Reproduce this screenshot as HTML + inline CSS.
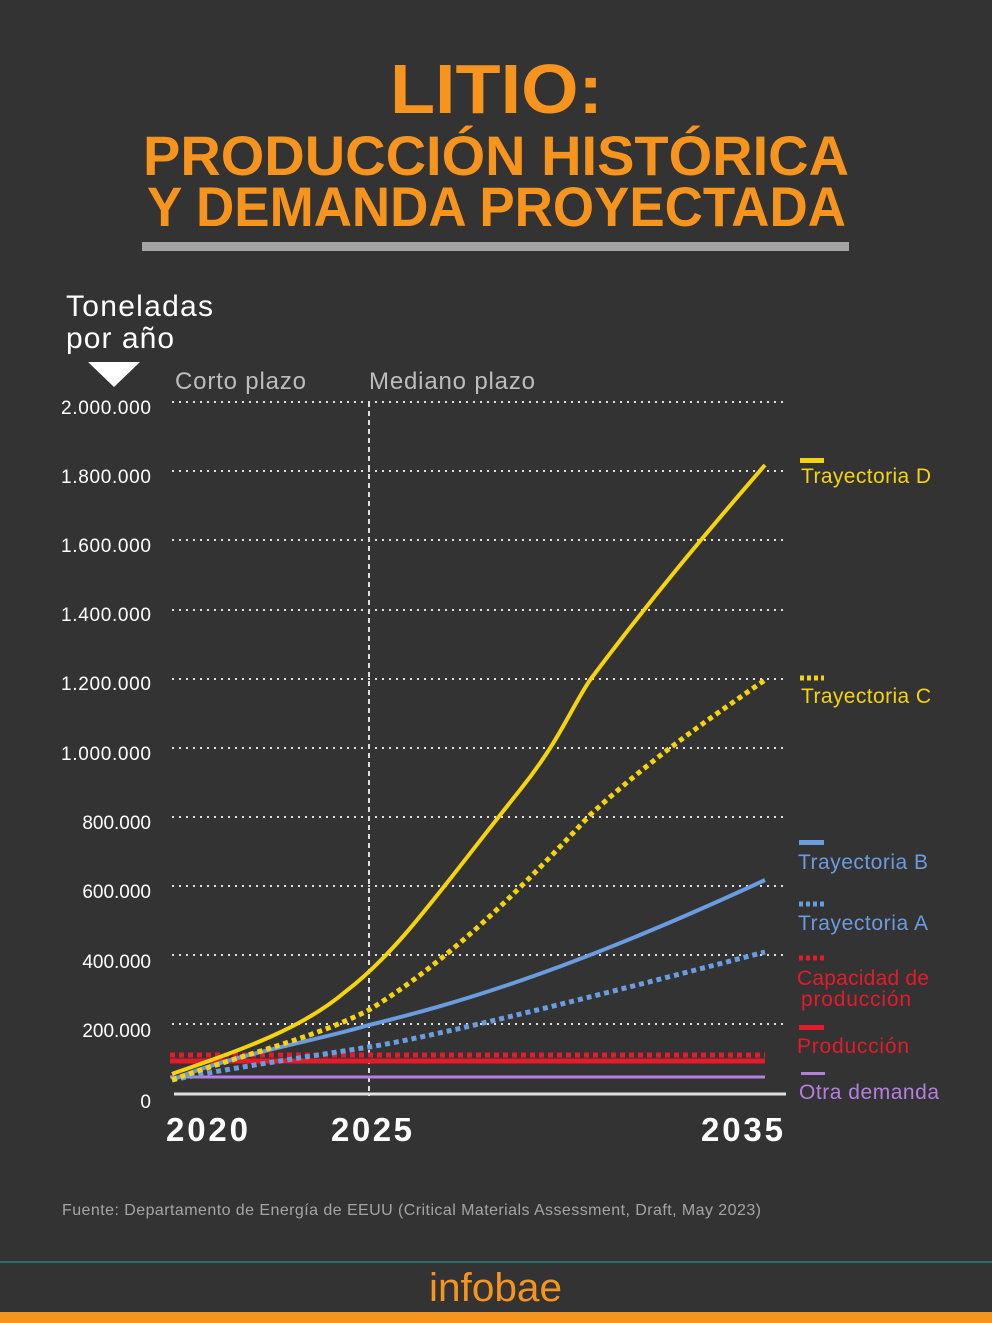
<!DOCTYPE html>
<html><head><meta charset="utf-8"><style>
body{margin:0;background:#333333;width:992px;height:1323px;overflow:hidden;font-family:"Liberation Sans",sans-serif;}
svg{display:block}
</style></head><body>
<svg width="992" height="1323" viewBox="0 0 992 1323" xmlns="http://www.w3.org/2000/svg">
<rect width="992" height="1323" fill="#333333"/>
<g font-family="Liberation Sans, sans-serif" font-weight="bold" fill="#f7941d">
<text x="390" y="113" font-size="70" textLength="213" lengthAdjust="spacingAndGlyphs">LITIO:</text>
<text x="143" y="175" font-size="56" textLength="706" lengthAdjust="spacingAndGlyphs">PRODUCCIÓN HISTÓRICA</text>
<text x="147" y="226" font-size="56" textLength="699" lengthAdjust="spacingAndGlyphs">Y DEMANDA PROYECTADA</text>
</g>
<rect x="142" y="242" width="707" height="9" fill="#a3a3a3"/>
<text x="66" y="316" font-size="30" fill="#fff" textLength="147">Toneladas</text>
<text x="66" y="348" font-size="30" fill="#fff" textLength="108">por año</text>
<polygon points="88,362 140,362 114,387" fill="#fff"/>
<text x="175" y="389" font-size="24" fill="#bdbdbd" textLength="131">Corto plazo</text>
<text x="369" y="389" font-size="24" fill="#bdbdbd" textLength="166">Mediano plazo</text>
<g stroke="#e0e0e0" stroke-width="2" stroke-dasharray="2,5">
<line x1="172" y1="402" x2="788" y2="402"/><line x1="172" y1="471" x2="788" y2="471"/>
<line x1="172" y1="540" x2="788" y2="540"/><line x1="172" y1="610" x2="788" y2="610"/>
<line x1="172" y1="679" x2="788" y2="679"/><line x1="172" y1="748" x2="788" y2="748"/>
<line x1="172" y1="817" x2="788" y2="817"/><line x1="172" y1="886" x2="788" y2="886"/>
<line x1="172" y1="955" x2="788" y2="955"/><line x1="172" y1="1024" x2="788" y2="1024"/>
</g>
<g font-size="19" fill="#fff" text-anchor="end">
<text x="151" y="414" textLength="90">2.000.000</text><text x="151" y="483" textLength="90">1.800.000</text>
<text x="151" y="552" textLength="90">1.600.000</text><text x="151" y="621" textLength="90">1.400.000</text>
<text x="151" y="690" textLength="90">1.200.000</text><text x="151" y="760" textLength="90">1.000.000</text>
<text x="151" y="829">800.000</text><text x="151" y="898">600.000</text>
<text x="151" y="968">400.000</text><text x="151" y="1037">200.000</text>
<text x="151" y="1108">0</text>
</g>
<line x1="369" y1="402" x2="369" y2="1096" stroke="#e0e0e0" stroke-width="2" stroke-dasharray="5,4"/>
<line x1="174" y1="1094" x2="786" y2="1094" stroke="#e0e0e0" stroke-width="3"/>
<line x1="170" y1="1077" x2="765" y2="1077" stroke="#b57fe0" stroke-width="3"/>
<line x1="170" y1="1061" x2="765" y2="1061" stroke="#e31b2b" stroke-width="5"/>
<line x1="170" y1="1055" x2="765" y2="1055" stroke="#e31b2b" stroke-width="5" stroke-dasharray="5,4"/>
<g fill="none" stroke-linecap="butt">
<path d="M172,1080 C230,1068 300,1058 369,1047 S600,995 765,952" stroke="#6a9ce0" stroke-width="5" stroke-dasharray="5,4"/>
<path d="M172,1080 C230,1055 320,1040 369,1025 C450,1005 560,975 765,880" stroke="#6a9ce0" stroke-width="4"/>
<path d="M172,1080 C240,1055 310,1040 369,1010 C450,960 520,890 590,815 C650,760 700,725 765,680" stroke="#f5d40f" stroke-width="5" stroke-dasharray="5,4"/>
<path d="M172,1074 C240,1050 300,1030 345,992 C400,950 440,890 520,790 C560,740 570,710 590,680 C650,600 700,540 765,465" stroke="#f5d40f" stroke-width="4"/>
</g>
<g font-size="21">
<rect x="800" y="458" width="24" height="5" fill="#f5d40f"/>
<text x="801" y="483" fill="#f5d40f" textLength="130">Trayectoria D</text>
<line x1="800" y1="678" x2="824" y2="678" stroke="#f5d40f" stroke-width="5" stroke-dasharray="4,3"/>
<text x="801" y="703" fill="#f5d40f" textLength="130">Trayectoria C</text>
<rect x="799" y="840" width="25" height="5" fill="#6a9ce0"/>
<text x="798" y="869" fill="#6a9ce0" textLength="130">Trayectoria B</text>
<line x1="799" y1="904" x2="824" y2="904" stroke="#6a9ce0" stroke-width="5" stroke-dasharray="4,3"/>
<text x="798" y="930" fill="#6a9ce0" textLength="130">Trayectoria A</text>
<line x1="799" y1="958" x2="824" y2="958" stroke="#e31b2b" stroke-width="5" stroke-dasharray="4,3"/>
<text x="797" y="985" fill="#e31b2b" textLength="132">Capacidad de</text>
<text x="801" y="1006" fill="#e31b2b" textLength="110">producción</text>
<rect x="799" y="1025" width="25" height="5" fill="#e31b2b"/>
<text x="797" y="1053" fill="#e31b2b" textLength="112">Producción</text>
<rect x="801" y="1072" width="24" height="3" fill="#b57fe0"/>
<text x="799" y="1099" fill="#b57fe0" textLength="140">Otra demanda</text>
</g>
<g font-size="33" font-weight="bold" fill="#fff">
<text x="166" y="1141" textLength="82">2020</text><text x="331" y="1141" textLength="81">2025</text><text x="701" y="1141" textLength="82">2035</text>
</g>
<text x="62" y="1215" font-size="16" fill="#a5a5a5" textLength="699">Fuente: Departamento de Energía de EEUU (Critical Materials Assessment, Draft, May 2023)</text>
<rect x="0" y="1261" width="992" height="2" fill="#2f6b6b"/>
<text x="429" y="1301" font-size="40" fill="#f7941d" textLength="133" lengthAdjust="spacingAndGlyphs">infobae</text>
<rect x="0" y="1312" width="992" height="11" fill="#f7941d"/>
</svg>
</body></html>
